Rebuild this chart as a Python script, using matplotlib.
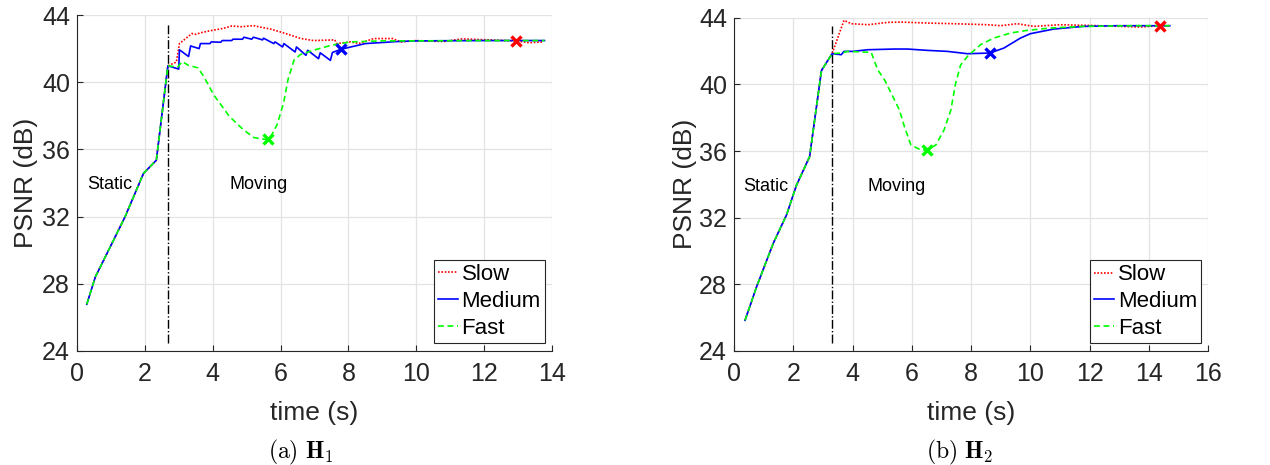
import numpy as np
import matplotlib
matplotlib.use("Agg")
import matplotlib.pyplot as plt

plt.rcParams['font.family'] = ['Liberation Sans', 'DejaVu Sans']
plt.rcParams['mathtext.fontset'] = 'cm'

# ---------------- datos H1 ----------------
h1_static_t = [0.29, 0.54, 1.03, 1.42, 1.96, 2.34, 2.68]
h1_static_p = [26.78, 28.4, 30.4, 32.0, 34.57, 35.36, 40.98]

h1_slow_t = [2.93, 3.02, 3.39, 3.5, 3.66, 3.94, 4.3, 4.57, 4.85, 5.2, 5.43, 5.7, 6.15, 6.6,
             6.97, 7.6, 7.65, 8.06, 8.3, 8.75, 9.3, 9.55, 10.0, 10.8, 11.35, 12.17, 12.94,
             13.33, 13.75]
h1_slow_p = [41.2, 42.3, 42.9, 42.85, 42.95, 43.07, 43.2, 43.35, 43.3, 43.37, 43.27, 43.17,
             42.9, 42.6, 42.48, 42.52, 42.3, 42.4, 42.3, 42.6, 42.6, 42.4, 42.48, 42.42,
             42.58, 42.52, 42.46, 42.35, 42.4]

h1_med_t = [3.0, 3.02, 3.29, 3.35, 3.6, 3.64, 3.92, 3.96, 4.24, 4.28, 4.56, 4.6, 4.88, 4.92,
            5.15, 5.2, 5.47, 5.5, 5.8, 5.84, 6.06, 6.1, 6.43, 6.47, 6.75, 6.8, 7.12, 7.17,
            7.47, 7.53, 7.78, 8.5, 9.43, 10.0, 11.0, 12.0, 13.78]
h1_med_p = [40.78, 41.93, 41.53, 42.16, 42.0, 42.3, 42.3, 42.4, 42.38, 42.48, 42.48, 42.56,
            42.56, 42.68, 42.56, 42.68, 42.52, 42.62, 42.3, 42.4, 42.1, 42.3, 41.8, 42.1,
            41.6, 41.9, 41.4, 41.75, 41.3, 41.77, 41.96, 42.3, 42.42, 42.46, 42.47, 42.48,
            42.48]

h1_fast_t = [2.97, 3.1, 3.29, 3.57, 3.75, 4.03, 4.49, 4.9, 5.22, 5.58, 5.68, 5.9, 6.09,
             6.22, 6.4, 6.59, 7.05, 7.5, 8.06, 8.97, 10.0, 12.0, 13.78]
h1_fast_p = [40.9, 41.23, 41.0, 40.85, 40.3, 39.25, 37.97, 37.18, 36.7, 36.59, 36.63, 37.48,
             38.76, 40.15, 41.33, 41.65, 41.95, 42.2, 42.4, 42.46, 42.46, 42.48, 42.48]

h1_mark_t = [12.94, 7.78, 5.64]
h1_mark_p = [42.46, 41.96, 36.6]
h1_switch = 2.68

# ---------------- datos H2 ----------------
h2_static_t = [0.37, 0.76, 1.32, 1.77, 2.11, 2.55, 2.95, 3.31]
h2_static_p = [25.84, 27.85, 30.45, 32.16, 33.96, 35.66, 40.83, 41.84]

h2_slow_t = [3.71, 3.96, 4.52, 5.19, 5.63, 6.53, 7.43, 8.55, 9.0, 9.56, 10.12, 11.01, 12.36,
             13.7, 14.38, 14.71]
h2_slow_p = [43.84, 43.64, 43.58, 43.72, 43.74, 43.68, 43.64, 43.58, 43.52, 43.64, 43.48,
             43.58, 43.52, 43.44, 43.52, 43.52]

h2_med_t = [3.62, 3.71, 4.01, 4.52, 5.41, 5.86, 6.53, 7.2, 7.88, 8.64, 9.11, 9.67, 10.0,
            10.79, 11.8, 12.92, 14.38, 14.71]
h2_med_p = [41.78, 41.98, 41.98, 42.08, 42.12, 42.12, 42.04, 41.98, 41.84, 41.88, 42.18,
            42.78, 43.04, 43.32, 43.48, 43.52, 43.52, 43.52]

h2_fast_t = [3.62, 3.84, 4.63, 4.85, 5.08, 5.36, 5.58, 5.75, 5.97, 6.31, 6.51, 6.81, 7.09,
             7.32, 7.48, 7.65, 7.88, 8.32, 8.77, 9.33, 9.89, 10.68, 11.8, 13.48, 14.71]
h2_fast_p = [41.88, 41.98, 41.92, 40.87, 40.27, 39.27, 38.47, 37.47, 36.36, 36.06, 36.06,
             36.36, 37.27, 38.47, 40.07, 41.17, 41.68, 42.38, 42.78, 43.08, 43.24, 43.38,
             43.48, 43.52, 43.52]

h2_mark_t = [14.38, 8.64, 6.51]
h2_mark_p = [43.52, 41.88, 36.06]
h2_switch = 3.31

series_names = ['Slow', 'Medium', 'Fast']
colores = ['#ff0000', '#0000ff', '#00ff00']
estilos = [(0, (1, 1)), '-', (0, (3.5, 2.2))]
yticks = [24, 28, 32, 36, 40, 44]


def graficar(ax, st_t, st_p, moving, marks_t, marks_p, switch, xmax, xticks, ylab_x):
    lineas = []
    for (mt, mp), nombre, c, ls in zip(moving, series_names, colores, estilos):
        t = np.concatenate([st_t, mt])
        p = np.concatenate([st_p, mp])
        l, = ax.plot(t, p, color=c, linestyle=ls, linewidth=1.2, label=nombre, zorder=3)
        lineas.append(l)
    for x, y, c in zip(marks_t, marks_p, colores):
        ax.plot(x, y, 'x', color=c, markersize=7, markeredgewidth=2.4, zorder=4)

    ax.plot([switch, switch], [24.5, 43.5], color='black', linestyle='-.', linewidth=1.0, zorder=2)

    ax.text(0.3, 33.9, 'Static', fontsize=13, va='center', ha='left')
    ax.text(4.5, 33.9, 'Moving', fontsize=13, va='center', ha='left')

    ax.set_xlim(0, xmax)
    ax.set_ylim(24, 44)
    ax.set_xticks(xticks)
    ax.set_yticks(yticks)
    ax.grid(True, color='#e3e3e3', linewidth=0.9, zorder=0)
    ax.set_axisbelow(True)
    for s in ['top', 'right']:
        ax.spines[s].set_visible(False)
    for s in ['left', 'bottom']:
        ax.spines[s].set_color('#262626')
        ax.spines[s].set_linewidth(0.8)
    ax.tick_params(direction='in', length=4, width=0.8, colors='#262626', labelsize=18,
                   labelcolor='#262626')
    ax.tick_params(axis='x', pad=8)
    ax.tick_params(axis='y', pad=5)

    ax.set_xlabel('time (s)', fontsize=19, color='#262626')
    ax.set_ylabel('PSNR (dB)', fontsize=19, color='#262626')
    ax.xaxis.set_label_coords(0.5, -0.15)
    ax.yaxis.set_label_coords(ylab_x, 0.5)

    leg = ax.legend(handles=lineas, loc='lower right', bbox_to_anchor=(0.986, 0.023),
                    fontsize=16, handlelength=0.9, handletextpad=0.15, labelspacing=0.26,
                    borderpad=0.2, borderaxespad=0, fancybox=False, framealpha=1)
    leg.get_frame().set_edgecolor('#262626')
    leg.get_frame().set_linewidth(0.8)


fig = plt.figure(figsize=(12.7, 4.65), dpi=100)
ax1 = fig.add_axes([0.0606, 0.2452, 0.3740, 0.7225])
ax2 = fig.add_axes([0.5780, 0.2452, 0.3732, 0.7167])

graficar(ax1, h1_static_t, h1_static_p,
         [(h1_slow_t, h1_slow_p), (h1_med_t, h1_med_p), (h1_fast_t, h1_fast_p)],
         h1_mark_t, h1_mark_p, h1_switch, 14, [0, 2, 4, 6, 8, 10, 12, 14], -0.082)
graficar(ax2, h2_static_t, h2_static_p,
         [(h2_slow_t, h2_slow_p), (h2_med_t, h2_med_p), (h2_fast_t, h2_fast_p)],
         h2_mark_t, h2_mark_p, h2_switch, 16, [0, 2, 4, 6, 8, 10, 12, 14, 16], -0.078)

# captions de subfiguras
fig.text(0.237, 0.026, r'$\mathrm{(a)}\ \mathbf{H}_{\mathbf{1}}$', fontsize=17, ha='center', va='center')
fig.text(0.756, 0.026, r'$\mathrm{(b)}\ \mathbf{H}_{\mathbf{2}}$', fontsize=17, ha='center', va='center')

fig.savefig('out.png', dpi=100)
